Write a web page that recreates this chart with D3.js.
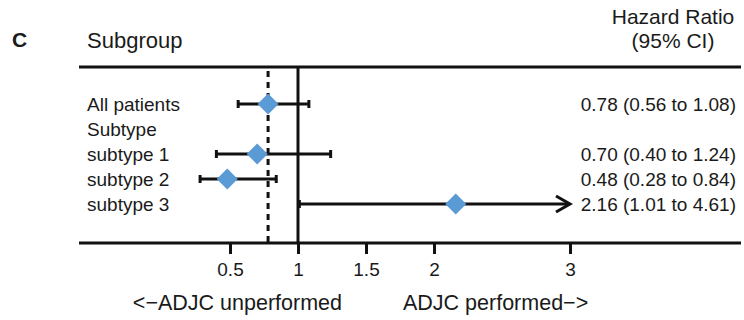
<!DOCTYPE html>
<html>
<head>
<meta charset="utf-8">
<script src="https://cdn.jsdelivr.net/npm/d3@7"></script>
<style>
  body { margin: 0; background: #fff; }
  svg { display: block; font-family: "Liberation Sans", Arial, Helvetica, sans-serif; }
  text { fill: #1a1a1a; }
</style>
</head>
<body>
<svg id="forest" width="744" height="320"></svg>
<script>
// Forest plot: hazard ratios by subgroup
const rowLabels = ["All patients", "Subtype", "subtype 1", "subtype 2", "subtype 3"];
const hr    = [0.78, null, 0.70, 0.48, 2.16];
const lower = [0.56, null, 0.40, 0.28, 1.01];
const upper = [1.08, null, 1.24, 0.84, 4.61];
const hrText = ["0.78 (0.56 to 1.08)", "", "0.70 (0.40 to 1.24)", "0.48 (0.28 to 0.84)", "2.16 (1.01 to 4.61)"];
const tickValues = [0.5, 1, 1.5, 2, 3];
const overallHR = 0.78;

const svg = d3.select('#forest');
const fontSize = 19;
const blue = "#5b9bd5";
const ink = "#111";
const lw = 3;

const x = d3.scaleLinear().domain([0.5, 3]).range([230, 570]);
const y = d3.scalePoint().domain(rowLabels).range([104, 204]);

const topY = 67, bottomY = 243;
const lineLeft = 79, lineRight = 741;

// headers
svg.append("text").attr("x", 12).attr("y", 47)
    .attr("font-size", 21).attr("font-weight", "bold").text("C");
svg.append("text").attr("x", 87).attr("y", 48)
    .attr("font-size", 22).text("Subgroup");
svg.append("text").attr("x", 673).attr("y", 24).attr("text-anchor", "middle")
    .attr("font-size", 21).text("Hazard Ratio");
svg.append("text").attr("x", 673).attr("y", 48).attr("text-anchor", "middle")
    .attr("font-size", 21).text("(95% CI)");

// horizontal rules
svg.append("line").attr("x1", lineLeft).attr("x2", lineRight)
    .attr("y1", topY).attr("y2", topY)
    .attr("stroke", ink).attr("stroke-width", lw);
svg.append("line").attr("x1", lineLeft).attr("x2", lineRight)
    .attr("y1", bottomY).attr("y2", bottomY)
    .attr("stroke", ink).attr("stroke-width", lw);

// reference lines
svg.append("line").attr("x1", x(1)).attr("x2", x(1))
    .attr("y1", topY).attr("y2", bottomY)
    .attr("stroke", ink).attr("stroke-width", lw);
svg.append("line").attr("x1", x(overallHR)).attr("x2", x(overallHR))
    .attr("y1", topY + 4).attr("y2", bottomY)
    .attr("stroke", ink).attr("stroke-width", lw)
    .attr("stroke-dasharray", "6,5");

// axis
const axis = d3.axisBottom(x).tickValues(tickValues).tickSize(11).tickPadding(9)
    .tickFormat(d => String(d));
const axisG = svg.append("g").attr("transform", `translate(0,${bottomY})`).call(axis);
axisG.select(".domain").remove();
axisG.selectAll(".tick line").attr("stroke", ink).attr("stroke-width", lw);
axisG.selectAll(".tick text").attr("font-size", fontSize)
    .attr("font-family", "Liberation Sans, Arial, sans-serif").attr("fill", "#1a1a1a");

svg.append("text").attr("x", 342).attr("y", 310).attr("text-anchor", "end")
    .attr("font-size", 21.5).text("<\u2212ADJC unperformed");
svg.append("text").attr("x", 403).attr("y", 310)
    .attr("font-size", 21.5).text("ADJC performed\u2212>");

// row labels and HR text
svg.append("g").selectAll("text").data(rowLabels).enter().append("text")
    .attr("x", 87).attr("y", d => y(d)).attr("dy", "0.36em")
    .attr("font-size", fontSize).text(d => d);
svg.append("g").selectAll("text").data(rowLabels).enter().append("text")
    .attr("x", 736).attr("y", d => y(d)).attr("dy", "0.36em")
    .attr("text-anchor", "end")
    .attr("font-size", fontSize).text((d, i) => hrText[i]);

// CI lines
const rows = rowLabels.map((r, i) => ({ label: r, hr: hr[i], lo: lower[i], hi: upper[i] }))
    .filter(d => d.hr !== null);
const xMax = x.domain()[1];
const capH = 4;

const ci = svg.append("g");
rows.forEach(d => {
    const yy = y(d.label);
    const clipped = d.hi > xMax;
    const xHi = clipped ? x(xMax) : x(d.hi);
    ci.append("line").attr("x1", x(d.lo)).attr("x2", xHi)
        .attr("y1", yy).attr("y2", yy)
        .attr("stroke", ink).attr("stroke-width", lw);
    ci.append("line").attr("x1", x(d.lo)).attr("x2", x(d.lo))
        .attr("y1", yy - capH).attr("y2", yy + capH)
        .attr("stroke", ink).attr("stroke-width", lw);
    if (clipped) {
        ci.append("path")
            .attr("d", `M${xHi - 14},${yy - 8}L${xHi},${yy}L${xHi - 14},${yy + 8}`)
            .attr("fill", "none").attr("stroke", ink).attr("stroke-width", lw);
    } else {
        ci.append("line").attr("x1", xHi).attr("x2", xHi)
            .attr("y1", yy - capH).attr("y2", yy + capH)
            .attr("stroke", ink).attr("stroke-width", lw);
    }
});

// diamonds
const r = 10.5;
svg.append("g").selectAll("path").data(rows).enter().append("path")
    .attr("d", d => {
        const cx = x(d.hr), cy = y(d.label);
        return `M${cx},${cy - r}L${cx + r},${cy}L${cx},${cy + r}L${cx - r},${cy}Z`;
    })
    .attr("fill", blue);
</script>
</body>
</html>
